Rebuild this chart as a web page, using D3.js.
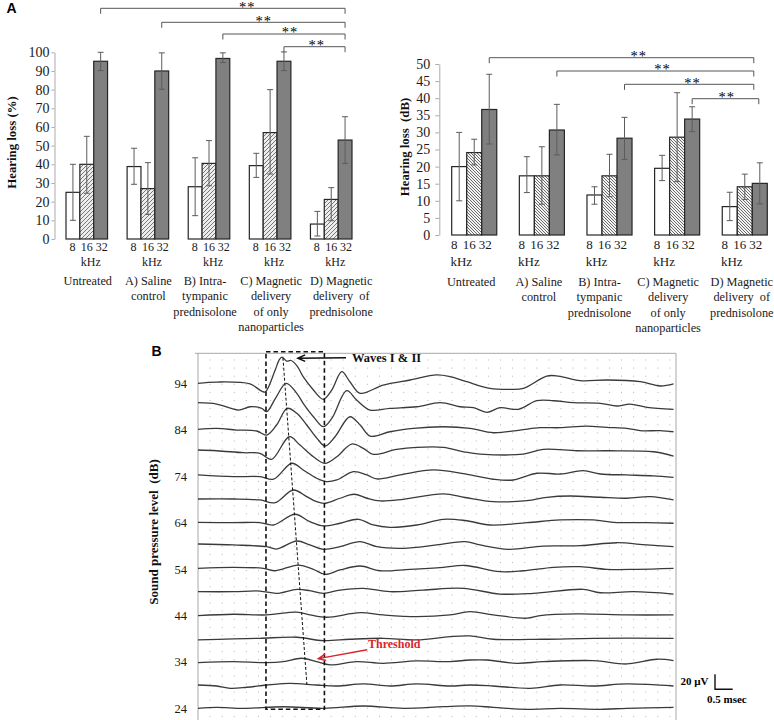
<!DOCTYPE html>
<html><head><meta charset="utf-8">
<script src="https://cdn.jsdelivr.net/npm/d3@7/dist/d3.min.js"></script>
<style>html,body{margin:0;padding:0;background:#fff;}svg{display:block;}</style>
</head><body>
<svg id="chart" width="774" height="720"></svg>
<script>
// ================= DATA =================
const groupLines = [
  ["Untreated"],
  ["A) Saline", "control"],
  ["B) Intra-", "tympanic", "prednisolone"],
  ["C) Magnetic", "delivery", "of only", "nanoparticles"],
  ["D) Magnetic", "delivery  of", "prednisolone"]
];
const freqLabels = ["8", "16", "32"];
const unitLabel = "kHz";

// Hearing loss (%)  [group][8,16,32 kHz]
const pctMean = [[25, 40, 95.2], [38.8, 27, 90], [28, 40.5, 96.7], [39.3, 57, 95.2], [8, 21.2, 53]];
const pctLow  = [[10, 24.5, 90.2], [29.3, 13.2, 80.2], [12.5, 28.5, 94.5], [33, 34.8, 90.2], [1.6, 9.8, 40.5]];
const pctHigh = [[40, 55, 100], [48.6, 40.9, 99.7], [43.5, 52.7, 99.7], [45.9, 80, 100.2], [14.8, 27.5, 65.5]];
const pctTicks = [0, 10, 20, 30, 40, 50, 60, 70, 80, 90, 100];

// Hearing loss (dB)
const dbMean = [[20, 24.1, 36.7], [17.3, 17.3, 30.7], [11.7, 17.3, 28.3], [19.5, 28.6, 33.9], [8.3, 14.1, 15.1]];
const dbLow  = [[10, 20.5, 26.6], [12.4, 9, 23.4], [9, 11.2, 22.1], [15.9, 15.6, 30.2], [4.2, 10.4, 9.1]];
const dbHigh = [[30, 28, 47], [22.9, 25.8, 38.2], [14.1, 23.6, 34.4], [23.3, 41.6, 37.5], [12.5, 17.8, 21.1]];
const dbTicks = [0, 5, 10, 15, 20, 25, 30, 35, 40, 45, 50];

// significance comparisons [from group, to group]
const sigPairs = [[0, 4], [1, 4], [2, 4], [3, 4]];
const sigText = "**";

// ABR traces: sound level (dB) and [time (ms), amplitude (µV)] samples
const abrLevels = [94, 89, 84, 79, 74, 69, 64, 59, 54, 49, 44, 39, 34, 29, 24];
const abrTickLevels = [94, 84, 74, 64, 54, 44, 34, 24];
const abrTraces = [
  [[0,0],[0.53,1.7],[1.47,-0.9],[1.8,-10.5],[1.9,-11.6],[2.18,17.7],[2.29,31],[2.37,35],[2.5,29.7],[2.63,30.4],[2.8,23],[2.97,8.8],[3.26,-8.9],[3.54,-21.3],[3.78,-8.9],[4.06,15.5],[4.29,2.1],[4.58,-13.3],[5.23,-2.3],[5.99,4.4],[6.74,11.1],[7.12,8.8],[7.59,2.1],[8.25,-6.7],[8.81,-8],[9.19,-6.7],[9.85,9.7],[10.18,9.7],[10.79,3.5],[11.55,4.4],[12.49,2.1],[13.05,-3.6],[13.43,-0.9]],
  [[0,5.1],[0.53,3.3],[1.14,-4.7],[1.47,-0.3],[1.8,-2.4],[1.94,-6.9],[2.2,12],[2.49,30.9],[2.79,17.6],[2.97,4.3],[3.26,-13.6],[3.54,-26.9],[3.78,-15.7],[4.2,21.1],[4.48,8.7],[4.86,-4.7],[5.42,-2.4],[6.18,-0.3],[6.84,5.1],[7.4,-0.3],[7.78,-1.6],[8.16,-7.7],[8.53,-1.6],[9.05,-3.7],[9.57,7.7],[10.04,7.7],[10.6,5.1],[11.36,4.3],[11.83,0.7],[12.2,3.3],[12.68,-1.1],[13.43,-3.7]],
  [[0,0.5],[0.53,1.9],[1.09,-0.4],[1.66,-1.7],[1.94,-7.1],[2.22,6.3],[2.52,28.5],[2.79,21.9],[3.07,6.3],[3.36,-11.5],[3.59,-21.7],[3.87,-9.3],[4.29,17.3],[4.58,6.3],[4.86,-8.4],[5.42,-2.7],[6.08,1.9],[6.93,4],[7.68,1.9],[8.34,-4],[9.09,-0.4],[9.66,2.7],[10.23,2.7],[10.98,4.9],[11.55,3.2],[12.11,1.9],[12.49,-1.3],[13.05,-1.3],[13.43,-2.7]],
  [[0,3.9],[0.53,2.9],[1.28,0.3],[1.75,-0.5],[2.08,-8.5],[2.58,21.6],[2.88,10.5],[3.26,-5.1],[3.59,-13.9],[3.92,-5.1],[4.34,11.9],[4.67,6.1],[4.95,-1.9],[5.61,4.8],[6.18,7.5],[6.93,7.5],[7.54,1.2],[7.97,-1.5],[9.19,-1.5],[9.75,4.8],[10.7,2.9],[11.64,2.9],[12.86,1.6],[13.43,-4.1]],
  [[0,1.6],[1,-0.7],[1.75,-0.7],[2.13,-4.1],[2.65,17.2],[2.97,8.3],[3.35,-2.8],[3.63,-7.3],[3.92,-5.1],[4.39,6],[4.77,1.6],[5.05,-3.7],[5.71,1.6],[6.65,8.3],[7.54,2.9],[8.34,-4.1],[8.9,-5.1],[9.57,3.9],[10.23,2.9],[10.88,7.3],[11.36,2.9],[12.11,1.6],[12.86,0.3],[13.43,-1.5]],
  [[0,0.5],[1,0.5],[1.75,-0.8],[2.18,-4.4],[2.69,12.5],[3.07,3.6],[3.35,-3.1],[3.59,-5.2],[4.01,1.5],[4.41,6.8],[4.77,1.5],[5.14,-2.1],[5.8,0.1],[6.93,7.2],[7.54,2.5],[8.34,-3.1],[9.29,-1.7],[9.85,2.8],[10.51,4.5],[11.36,2.8],[12.11,1.5],[12.77,3.6],[13.43,-0.8]],
  [[0,0.4],[1,-0.1],[1.75,-0.1],[2.13,-3.2],[2.74,11.1],[3.16,1.2],[3.54,-4.5],[4.01,-0.9],[4.53,4.4],[4.95,-3.2],[5.42,-6.3],[6.18,-3.2],[6.93,4.4],[7.54,2.8],[8.25,-3.2],[9.29,-0.1],[10.23,3.5],[11.17,3.5],[11.74,0.4],[12.68,-0.1],[13.43,-0.9]],
  [[0,2.4],[1,1.1],[1.94,-1.2],[2.22,-4.3],[2.79,6.4],[3.16,1.1],[3.54,-4.7],[4.01,-1.2],[4.58,5.5],[5.05,-1.2],[5.8,-3.3],[6.74,1.1],[7.54,5.5],[7.97,1.1],[8.77,-4.7],[9.75,-0.3],[10.79,0.1],[11.83,4.1],[12.68,1.1],[13.43,-1.2]],
  [[0,0.9],[1,2.3],[1.85,0.9],[2.18,-2.3],[2.83,5.3],[3.26,-0.4],[3.59,-7.1],[4.01,-1.3],[4.58,4],[5.14,-2.3],[5.99,-0.4],[6.93,2.3],[7.54,4.7],[8.53,-3.6],[9.19,-2.3],[10.04,2.3],[10.79,3.1],[11.55,-0.4],[12.4,-0.4],[13.43,0.9]],
  [[0,0.7],[1,0.7],[1.75,1.6],[2.22,-1.5],[2.79,3.9],[3.16,2],[3.54,-1.5],[4.01,2.9],[4.67,5.2],[5.42,0.7],[6.36,2.9],[7.49,5.2],[8.53,-2.4],[9.47,-1.5],[10.88,3.9],[11.36,-0.7],[12.3,0.7],[13.43,-2.4]],
  [[0,-0.3],[1,1.6],[1.94,0.7],[2.79,4.3],[3.16,0.7],[3.63,-2.4],[4.58,3.7],[5.23,0.7],[6.18,-1.6],[7.12,0.7],[7.68,5.1],[8.34,0.7],[9.29,-3.7],[9.66,-0.3],[10.7,2],[12.11,0.7],[13.43,0.7]],
  [[0,-1.7],[1,-0.4],[1.75,0.5],[2.79,1.9],[3.54,-2.7],[4.29,-0.8],[5.23,0.5],[6.18,-1.7],[7.12,2.7],[7.68,3.6],[8.34,-0.8],[9.75,-0.8],[11.17,0.5],[13.43,0.5]],
  [[0,-1.1],[1,0.3],[1.94,-1.1],[2.41,0.3],[2.93,4.8],[3.35,0.3],[3.73,-4.1],[4.48,0.3],[5.23,-1.9],[6.18,1.2],[7.12,0.3],[7.68,2.5],[8.16,2.5],[9,-1.9],[9.75,0.3],[11.17,1.6],[12.11,-2.8],[12.96,3.5],[13.43,1.6]],
  [[0,0.1],[0.53,-1.2],[0.91,-4.3],[1.38,-2.9],[1.94,0.1],[2.6,2.4],[3.35,0.1],[3.92,-1.2],[4.67,1.5],[5.42,-1.2],[6.18,1.5],[7.12,-1.2],[7.68,0.1],[8.34,-1.2],[9.38,-4.3],[10.23,0.1],[11.17,-1.2],[12.11,1.5],[13.43,-1.2]],
  [[0,0],[0.53,1.3],[1.28,0],[2.41,2.1],[3.54,0],[4.67,3.1],[5.8,0],[6.93,2.1],[7.68,3.1],[8.34,1.3],[9.29,-1.3],[10.23,0],[11.36,-1.3],[12.11,0],[13.43,1.3]]
];
const abrTimeMax = 13.5;          // ms
const scaleBarUV = 20, scaleBarMs = 0.5;
// window of waves I & II (ms, dB) and latency line (ms, dB)
const waveWindow = {t0: 1.92, t1: 3.57, top: 100.8, bottom: 23.8};
const latencyLine = [[2.4, 99.5], [3.08, 28.6]];

// ================= RENDER =================
const svg = d3.select("#chart");
const SERIF = "'Liberation Serif','Times New Roman',Times,serif";
const SANS = "'Liberation Sans',Arial,Helvetica,sans-serif";
const defs = svg.append("defs");

const pL = defs.append("pattern").attr("id", "hatchL").attr("patternUnits", "userSpaceOnUse").attr("width", 4).attr("height", 4);
pL.append("rect").attr("width", 4).attr("height", 4).attr("fill", "#ededed");
pL.append("path").attr("d", "M-1,1 L1,-1 M0,4 L4,0 M3,5 L5,3").attr("stroke", "#6a6a6a").attr("stroke-width", 0.9);
const pR = defs.append("pattern").attr("id", "hatchR").attr("patternUnits", "userSpaceOnUse").attr("width", 3).attr("height", 3);
pR.append("rect").attr("width", 3).attr("height", 3).attr("fill", "#f2f2f2");
pR.append("path").attr("d", "M-1,2 L1,4 M0,0 L3,3 M2,-1 L4,1").attr("stroke", "#4a4a4a").attr("stroke-width", 0.8);

function drawBarChart(c) {
  const nG = groupLines.length;
  const x0 = d3.scaleBand().domain(d3.range(nG)).range(c.xRange).paddingInner(c.padIn).paddingOuter(c.padOut);
  const x1 = d3.scaleBand().domain(freqLabels).range([0, x0.bandwidth()]);
  const y = d3.scaleLinear().domain([0, c.ticks[c.ticks.length - 1]]).range(c.yRange);
  const g = svg.append("g").attr("font-family", SERIF);

  const ax = g.append("g").attr("transform", `translate(${c.axisX},0)`)
    .call(d3.axisLeft(y).tickValues(c.ticks).tickSize(c.tickSize).tickSizeOuter(0).tickPadding(c.tickPad))
    .attr("font-family", SERIF);
  ax.select(".domain").attr("stroke", "#ababab");
  ax.selectAll(".tick line").attr("stroke", "#ababab");
  ax.selectAll(".tick text").attr("font-family", SERIF).attr("font-size", c.tickFont).attr("fill", "#1a1a1a");

  const fills = ["#ffffff", `url(#${c.hatch})`, "#808080"];
  const bars = [];
  c.mean.forEach((row, gi) => row.forEach((v, fi) => bars.push({gi, fi, v, lo: c.low[gi][fi], hi: c.high[gi][fi]})));
  const bw = x1.bandwidth();
  const bx = d => x0(d.gi) + x1(freqLabels[d.fi]);

  g.selectAll("rect.bar").data(bars).join("rect").attr("class", "bar")
    .attr("x", bx).attr("y", d => y(d.v)).attr("width", bw).attr("height", d => y(0) - y(d.v))
    .attr("fill", d => fills[d.fi]).attr("stroke", "#262626").attr("stroke-width", 1.2);

  const eb = g.selectAll("g.err").data(bars).join("g").attr("class", "err")
    .attr("stroke", "#5c5c5c").attr("stroke-width", 1).attr("fill", "none");
  eb.append("line").attr("x1", d => bx(d) + bw / 2).attr("x2", d => bx(d) + bw / 2).attr("y1", d => y(d.lo)).attr("y2", d => y(d.hi));
  eb.append("line").attr("x1", d => bx(d) + bw / 2 - 3).attr("x2", d => bx(d) + bw / 2 + 3).attr("y1", d => y(d.hi)).attr("y2", d => y(d.hi));
  eb.append("line").attr("x1", d => bx(d) + bw / 2 - 3).attr("x2", d => bx(d) + bw / 2 + 3).attr("y1", d => y(d.lo)).attr("y2", d => y(d.lo));

  // frequency tick labels
  freqLabels.forEach((f, fi) => {
    g.selectAll(null).data(d3.range(nG)).join("text")
      .attr("x", gi => x0(gi) + x1(f) + bw / 2 + c.freqDx[fi]).attr("y", c.freqY)
      .attr("text-anchor", "middle").attr("font-family", SERIF).attr("font-size", c.freqFont).attr("fill", "#1a1a1a").text(f);
  });
  g.selectAll(null).data(d3.range(nG)).join("text")
    .attr("x", gi => x0(gi) + x0.bandwidth() / 2 + c.khzDx).attr("y", c.khzY)
    .attr("text-anchor", "middle").attr("font-family", SERIF).attr("font-size", c.freqFont).attr("fill", "#1a1a1a").text(unitLabel);
  // group labels
  groupLines.forEach((lines, gi) => {
    const t = g.append("text").attr("text-anchor", "middle").attr("font-family", SERIF).attr("font-size", c.labFont).attr("fill", "#1a1a1a")
      .attr("xml:space", "preserve");
    lines.forEach((ln, li) => t.append("tspan").attr("x", x0(gi) + x0.bandwidth() / 2 + c.grpDx[gi]).attr("y", c.grpY + li * 15.3).text(ln));
  });
  // title
  g.append("text").attr("transform", `translate(${c.titleX},${c.titleY}) rotate(-90)`)
    .attr("text-anchor", "middle").attr("font-family", SERIF).attr("font-weight", "bold").attr("font-size", 12.8)
    .attr("xml:space", "preserve").attr("fill", "#111").text(c.title);
  // significance brackets
  const grayC = gi => x0(gi) + x1("32") + bw / 2;
  sigPairs.forEach((p, i) => {
    const xa = grayC(p[0]), xb = grayC(p[1]) + c.sigEndDx[i], yy = c.sigY[i];
    g.append("path").attr("d", `M${xa},${yy + 5.5}V${yy}H${xb}V${yy + 5.5}`)
      .attr("fill", "none").attr("stroke", "#555").attr("stroke-width", 1);
    g.append("text").attr("x", xa + (xb - xa) * c.sigFrac[i]).attr("y", yy + 3.2)
      .attr("text-anchor", "middle").attr("font-family", SERIF).attr("font-size", 14.5).attr("letter-spacing", 1)
      .attr("fill", "#000").text(sigText);
  });
}

drawBarChart({
  mean: pctMean, low: pctLow, high: pctHigh, ticks: pctTicks, hatch: "hatchL",
  xRange: [55, 363], padIn: 0.32, padOut: 0.18, yRange: [239, 52.3],
  axisX: 54.5, tickSize: 3, tickPad: 2, tickFont: 14,
  labFont: 12.3, freqFont: 12, freqY: 251, freqDx: [-0.5, 0, 1], khzY: 265.5, khzDx: 4, grpY: 285,
  grpDx: [1, 0.5, -4, 1, 10],
  title: "Hearing loss (%)", titleX: 15.5, titleY: 142.5,
  sigY: [8.3, 22.3, 34, 46.7], sigFrac: [0.6, 0.556, 0.55, 0.536], sigEndDx: [0, 0, 0, 0]
});
drawBarChart({
  mean: dbMean, low: dbLow, high: dbHigh, ticks: dbTicks, hatch: "hatchR",
  xRange: [440, 779], padIn: 0.334, padOut: 0.173, yRange: [235, 64],
  axisX: 439.3, tickSize: 4, tickPad: 5, tickFont: 14,
  labFont: 12.3, freqFont: 13, freqY: 248.5, freqDx: [-5, -5, -4], khzY: 266, khzDx: -13, grpY: 286,
  grpDx: [-3, -3, -10, -9, -3],
  title: "Hearing loss  (dB)", titleX: 408.5, titleY: 147,
  sigY: [57.7, 71, 84.3, 98.7], sigFrac: [0.565, 0.537, 0.526, 0.52], sigEndDx: [-6, -6, -6, -1]
});

// panel letters
svg.append("text").attr("x", 6.5).attr("y", 13).attr("font-family", SANS).attr("font-weight", "bold").attr("font-size", 14).text("A");
svg.append("text").attr("x", 151.5).attr("y", 355.5).attr("font-family", SANS).attr("font-weight", "bold").attr("font-size", 14).text("B");

// ---------- Panel B ----------
const tx = d3.scaleLinear().domain([0, abrTimeMax]).range([198, 676]);
const ty = d3.scaleLinear().domain([94, 24]).range([383.3, 708.3]);
const amp = d3.scaleLinear().domain([0, 20]).range([0, 15]);
const gB = svg.append("g").attr("font-family", SERIF);

// dotted grid
const dots = [];
d3.range(1, 40).forEach(i => d3.range(0, 45).forEach(j => dots.push([198 + i * 12.1, 360 + j * 8.1])));
gB.append("g").selectAll("rect").data(dots).join("rect")
  .attr("x", d => d[0] - 0.5).attr("y", d => d[1] - 0.5).attr("width", 1).attr("height", 1).attr("fill", "#b5b5b5");

// frame
gB.append("path").attr("d", `M${tx(0) - 3},353.3H${tx(abrTimeMax)}V720 M${tx(0)},353.3V720`)
  .attr("fill", "none").attr("stroke", "#a8a8a8").attr("stroke-width", 1);

// y labels
const axB = gB.append("g").attr("transform", `translate(${tx(0)},0)`)
  .call(d3.axisLeft(ty).tickValues(abrTickLevels).tickSize(0).tickPadding(11)).attr("font-family", SERIF);
axB.select(".domain").remove();
axB.selectAll(".tick text").attr("font-family", SERIF).attr("font-size", 12.5).attr("fill", "#1a1a1a");

gB.append("text").attr("transform", `translate(158,532) rotate(-90)`).attr("text-anchor", "middle")
  .attr("font-family", SERIF).attr("font-weight", "bold").attr("font-size", 13).attr("xml:space", "preserve")
  .attr("fill", "#111").text("Sound pressure level  (dB)");

// traces
const lineGen = lvl => d3.line().x(d => tx(d[0])).y(d => ty(lvl) - amp(d[1])).curve(d3.curveCatmullRom.alpha(0.5));
gB.append("g").selectAll("path").data(abrTraces).join("path")
  .attr("d", (d, i) => lineGen(abrLevels[i])(d))
  .attr("fill", "none").attr("stroke", "#3a3a3a").attr("stroke-width", 1.3);

// dashed window
gB.append("rect").attr("x", tx(waveWindow.t0)).attr("y", ty(waveWindow.top))
  .attr("width", tx(waveWindow.t1) - tx(waveWindow.t0)).attr("height", ty(waveWindow.bottom) - ty(waveWindow.top))
  .attr("fill", "none").attr("stroke", "#111").attr("stroke-width", 1.6).attr("stroke-dasharray", "4.5,3");
// latency line
gB.append("line").attr("x1", tx(latencyLine[0][0])).attr("y1", ty(latencyLine[0][1]))
  .attr("x2", tx(latencyLine[1][0])).attr("y2", ty(latencyLine[1][1]))
  .attr("stroke", "#111").attr("stroke-width", 1).attr("stroke-dasharray", "3,2");

// arrows
function arrow(x1, y1, x2, y2, color) {
  const a = Math.atan2(y2 - y1, x2 - x1), L = 8, w = 0.42;
  gB.append("path")
    .attr("d", `M${x1},${y1}L${x2},${y2}M${x2 - L * Math.cos(a - w)},${y2 - L * Math.sin(a - w)}L${x2},${y2}L${x2 - L * Math.cos(a + w)},${y2 - L * Math.sin(a + w)}`)
    .attr("fill", "none").attr("stroke", color).attr("stroke-width", 1.5);
}
arrow(tx(4.18), ty(99.5), tx(2.82), ty(99.4), "#111");
gB.append("text").attr("x", tx(4.35)).attr("y", 361.5).attr("font-family", SERIF).attr("font-weight", "bold")
  .attr("font-size", 12.5).attr("fill", "#111").text("Waves I & II");
arrow(tx(4.78), ty(36.6), tx(3.4), ty(34.7), "#d9262c");
gB.append("text").attr("x", tx(4.80)).attr("y", 648).attr("font-family", SERIF).attr("font-weight", "bold")
  .attr("font-size", 12).attr("fill", "#d9262c").text("Threshold");

// scale bar
const sbX = 715, sbY = 689.3;
gB.append("path").attr("d", `M${sbX},${sbY - amp(scaleBarUV)}V${sbY}H${sbX + tx(scaleBarMs) - tx(0)}`)
  .attr("fill", "none").attr("stroke", "#111").attr("stroke-width", 1.4);
gB.append("text").attr("x", 708.5).attr("y", 684.5).attr("text-anchor", "end").attr("font-family", SERIF)
  .attr("font-weight", "bold").attr("font-size", 11).text(`${scaleBarUV} µV`);
gB.append("text").attr("x", 707).attr("y", 702.5).attr("font-family", SERIF)
  .attr("font-weight", "bold").attr("font-size", 11).text(`${scaleBarMs} msec`);
</script>
</body></html>
